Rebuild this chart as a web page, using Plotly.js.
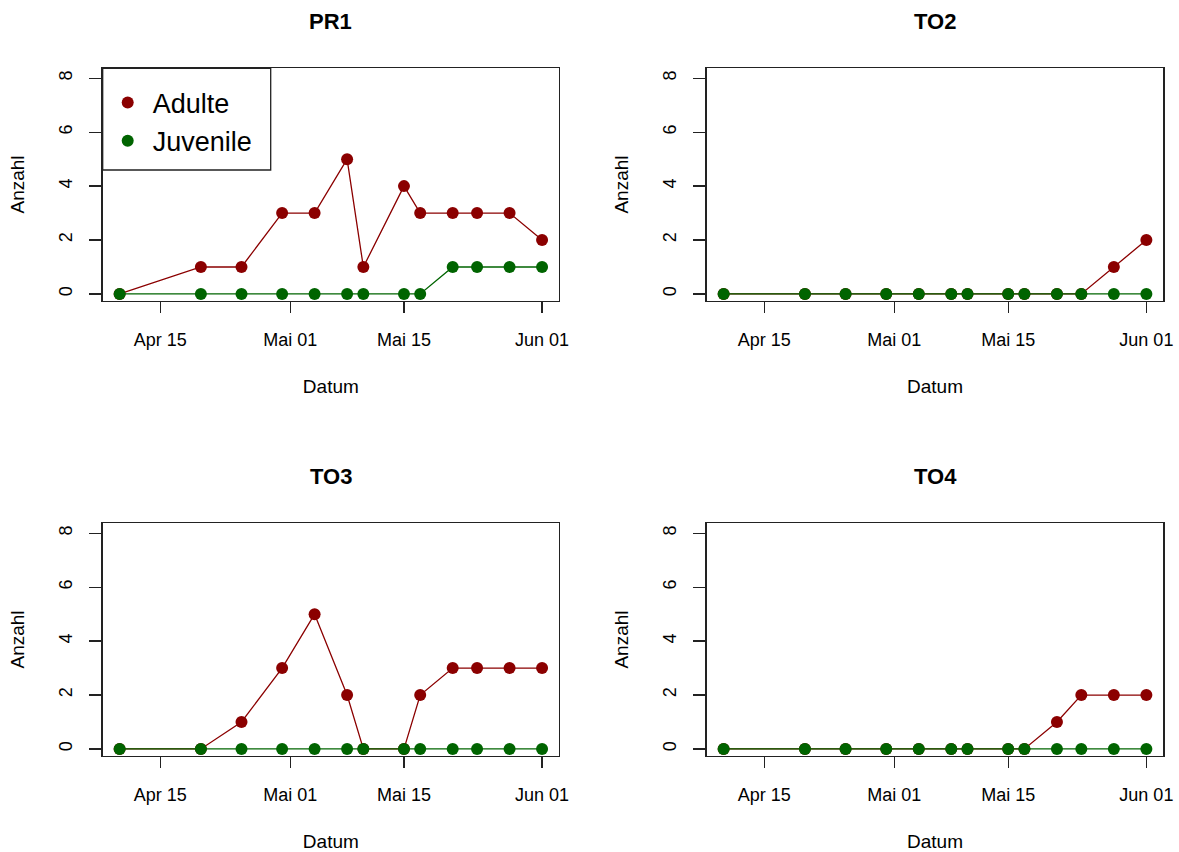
<!DOCTYPE html>
<html>
<head>
<meta charset="utf-8">
<script src="https://cdn.plot.ly/plotly-3.0.1.min.js"></script>
<style>
html,body{margin:0;padding:0;background:#fff;}
#chart{width:1179px;height:852px;}
</style>
</head>
<body>
<div id="chart"></div>
<script>
// ---- data ----
const dates = ['2019-04-10','2019-04-20','2019-04-25','2019-04-30','2019-05-04','2019-05-08','2019-05-10',
               '2019-05-15','2019-05-17','2019-05-21','2019-05-24','2019-05-28','2019-06-01'];
const panelTitles = ['PR1','TO2','TO3','TO4'];
const seriesNames = ['Adulte','Juvenile'];

const adultePR1   = [0,1,1,3,3,5,1,4,3,3,3,3,2];
const juvenilePR1 = [0,0,0,0,0,0,0,0,0,1,1,1,1];
const adulteTO2   = [0,0,0,0,0,0,0,0,0,0,0,1,2];
const juvenileTO2 = [0,0,0,0,0,0,0,0,0,0,0,0,0];
const adulteTO3   = [0,0,1,3,5,2,0,0,2,3,3,3,3];
const juvenileTO3 = [0,0,0,0,0,0,0,0,0,0,0,0,0];
const adulteTO4   = [0,0,0,0,0,0,0,0,0,1,2,2,2];
const juvenileTO4 = [0,0,0,0,0,0,0,0,0,0,0,0,0];

const xTickDates  = ['2019-04-15','2019-05-01','2019-05-15','2019-06-01'];
const xTickLabels = ['Apr 15','Mai 01','Mai 15','Jun 01'];
const yTickVals   = [0,2,4,6,8];

// ---- styling / layout ----
const RED = '#8B0000', GREEN = '#006400';
const FONT = 'Liberation Sans, Arial, sans-serif';
const W = 1179, H = 852;
const adulte = [adultePR1, adulteTO2, adulteTO3, adulteTO4];
const juvenile = [juvenilePR1, juvenileTO2, juvenileTO3, juvenileTO4];

// plot boxes in pixels [left, right, top, bottom]
const boxes = [
  [102.7, 559, 68.3, 300.7],
  [706.7, 1163.3, 68.3, 300.7],
  [102.7, 559, 523.3, 755.7],
  [706.7, 1163.3, 523.3, 755.7]
];

const traces = [];
const layout = {
  width: W, height: H,
  margin: {l:0, r:0, t:0, b:0},
  paper_bgcolor: '#fff', plot_bgcolor: '#fff',
  font: {family: FONT, color: '#000', size: 18},
  showlegend: true,
  legend: {
    x: 102.7/W, y: 1 - 122/H, xanchor: 'left', yanchor: 'middle',
    bgcolor: 'rgba(0,0,0,0)', borderwidth: 0,
    font: {family: FONT, size: 27, color: '#000'},
    itemwidth: 40, tracegroupgap: 0
  },
  annotations: [],
  shapes: [{
    type: 'rect', xref: 'paper', yref: 'paper',
    x0: 102.7/W, x1: 270.7/W, y0: 1 - 170/H, y1: 1 - 68.3/H,
    line: {color: '#222', width: 1.3}, fillcolor: '#fff', layer: 'below'
  }]
};

panelTitles.forEach((name, i) => {
  const n = i + 1;
  const xa = 'x' + (n === 1 ? '' : n), ya = 'y' + (n === 1 ? '' : n);
  const b = boxes[i];
  traces.push({x: dates, y: adulte[i], xaxis: xa, yaxis: ya, mode: 'lines',
    line: {color: RED, width: 1.3}, showlegend: false, hoverinfo: 'skip'});
  traces.push({x: dates, y: adulte[i], xaxis: xa, yaxis: ya, mode: 'markers', name: seriesNames[0],
    legendgroup: 'a', showlegend: i === 0, marker: {color: RED, size: 12, symbol: 'circle'}});
  traces.push({x: dates, y: juvenile[i], xaxis: xa, yaxis: ya, mode: 'lines',
    line: {color: GREEN, width: 1.3}, showlegend: false, hoverinfo: 'skip'});
  traces.push({x: dates, y: juvenile[i], xaxis: xa, yaxis: ya, mode: 'markers', name: seriesNames[1],
    legendgroup: 'j', showlegend: i === 0, marker: {color: GREEN, size: 12, symbol: 'circle'}});

  layout['xaxis' + (n === 1 ? '' : n)] = {
    domain: [b[0]/W, b[1]/W], anchor: ya, type: 'date',
    range: ['2019-04-07 22:00', '2019-06-03 02:00'],
    tickmode: 'array', tickvals: xTickDates, ticktext: xTickLabels,
    ticks: 'outside', ticklen: 11, tickwidth: 1.3, tickcolor: '#222',
    showline: true, mirror: true, linecolor: '#222', linewidth: 1.3,
    showgrid: false, zeroline: false, automargin: false,
    tickfont: {family: FONT, size: 18, color: '#000'}, ticklabelstandoff: 11,
    title: {text: 'Datum', font: {family: FONT, size: 19, color: '#000'}, standoff: 31}
  };
  layout['yaxis' + (n === 1 ? '' : n)] = {
    domain: [1 - b[3]/H, 1 - b[2]/H], anchor: xa,
    range: [-0.25, 8.37],
    tickmode: 'array', tickvals: yTickVals, tickangle: -90,
    ticks: 'outside', ticklen: 12, tickwidth: 1.3, tickcolor: '#222',
    showline: true, mirror: true, linecolor: '#222', linewidth: 1.3,
    showgrid: false, zeroline: false, automargin: false,
    tickfont: {family: FONT, size: 18, color: '#000'}, ticklabelstandoff: 10,
    title: {text: 'Anzahl', font: {family: FONT, size: 19, color: '#000'}, standoff: 26}
  };
  layout.annotations.push({
    text: '<b>' + name + '</b>', xref: 'paper', yref: 'paper',
    x: (b[0] + b[1]) / 2 / W, y: 1 - (b[2] - 47) / H,
    xanchor: 'center', yanchor: 'middle', showarrow: false,
    font: {family: FONT, size: 22, color: '#000'}
  });
});

Plotly.newPlot('chart', traces, layout, {staticPlot: true, displayModeBar: false});
</script>
</body>
</html>
